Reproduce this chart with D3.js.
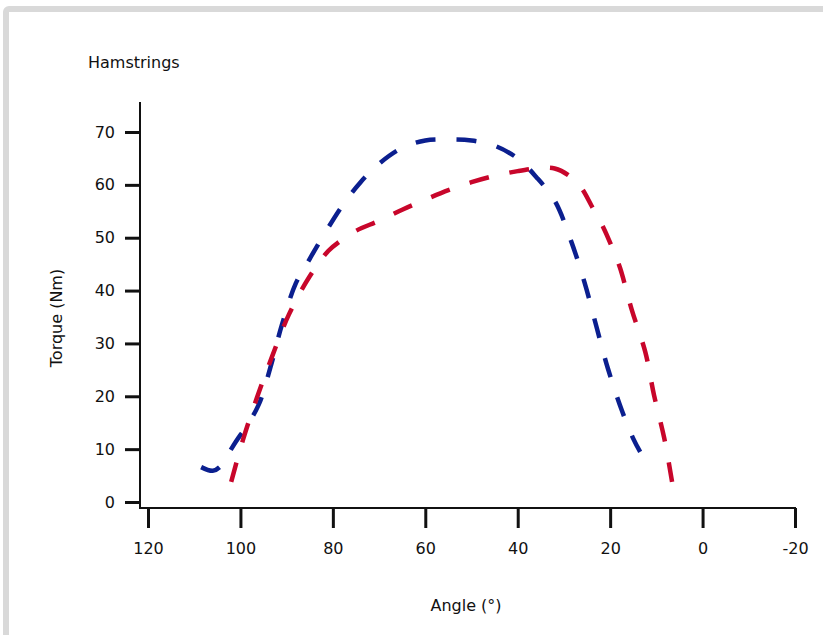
<!DOCTYPE html>
<html>
<head>
<meta charset="utf-8">
<script src="https://cdn.jsdelivr.net/npm/d3@7"></script>
<style>
  body { margin: 0; background: #fff; }
  svg text { font-family: "DejaVu Sans", sans-serif; fill: #111; }
</style>
</head>
<body>
<div id="chart"></div>
<script>
// valores (angulo em graus, torque em Nm)
const anguloAzul = [108.5, 106, 104.5, 103, 101, 98.5, 96, 93.5, 91, 88, 85, 83, 78, 74, 70, 65, 60, 55, 50, 45, 40, 36, 32, 28.5, 25.5, 23, 20.5, 17.5, 15, 13.5];
const torqueAzul = [6.6, 5.9, 6.6, 8.6, 11.4, 14.6, 18.5, 25.5, 33.6, 41.4, 46, 49, 56, 60.5, 64, 67, 68.4, 68.6, 68.4, 67.4, 65, 61.5, 57, 49.5, 41.4, 33.3, 25.3, 17.4, 12, 9.5];

const anguloVermelho = [102, 99.4, 96.4, 93.2, 89.5, 85, 81, 78.5, 75, 70, 65, 60, 55, 50, 45, 40, 35, 32, 29, 26.3, 24, 21.5, 19.5, 17.9, 15.3, 12.4, 10.5, 8.3, 6.6];
const torqueVermelho = [3.8, 11.9, 19.8, 27.4, 35.5, 42.7, 47.5, 49.3, 51.3, 53.2, 55.3, 57.2, 59, 60.5, 61.7, 62.6, 63.2, 63.1, 61.8, 59.5, 56, 52, 48, 44.4, 36.3, 28.4, 20.2, 12.1, 3.8];

const ticksX = [120, 100, 80, 60, 40, 20, 0, -20];
const ticksY = [0, 10, 20, 30, 40, 50, 60, 70];

const width = 823, height = 635;

const svg = d3.select("#chart")
  .append("svg")
  .attr("width", width)
  .attr("height", height);

// moldura cinza
svg.append("rect")
  .attr("x", 6).attr("y", 9)
  .attr("width", width).attr("height", height)
  .attr("rx", 3)
  .attr("fill", "#fff")
  .attr("stroke", "#d9d9d9")
  .attr("stroke-width", 6);

const x = d3.scaleLinear().domain([120, -20]).range([148, 795]);
const y = d3.scaleLinear().domain([0, 70]).range([502, 132]);

// eixo y
const eixoY = svg.append("g")
  .attr("transform", "translate(140,0)")
  .call(d3.axisLeft(y).tickValues(ticksY).tickSize(15).tickPadding(10).tickFormat(d => String(d)));
eixoY.select(".domain").remove();
eixoY.selectAll("line").attr("stroke", "#111").attr("stroke-width", 3);
eixoY.selectAll("text").attr("font-size", 16).attr("font-family", "DejaVu Sans, sans-serif").attr("fill", "#111");

// eixo x
const eixoX = svg.append("g")
  .attr("transform", "translate(0,508)")
  .call(d3.axisBottom(x).tickValues(ticksX).tickSize(20).tickPadding(15).tickFormat(d => String(d)));
eixoX.select(".domain").remove();
eixoX.selectAll("line").attr("stroke", "#111").attr("stroke-width", 3);
eixoX.selectAll("text").attr("font-size", 16).attr("font-family", "DejaVu Sans, sans-serif").attr("fill", "#111");

svg.append("line")
  .attr("x1", 140).attr("x2", 140)
  .attr("y1", 102).attr("y2", 509)
  .attr("stroke", "#111").attr("stroke-width", 2);

svg.append("line")
  .attr("x1", 139).attr("x2", 796)
  .attr("y1", 508).attr("y2", 508)
  .attr("stroke", "#111").attr("stroke-width", 2);

// curvas
const linha = d3.line()
  .x(d => x(d[0]))
  .y(d => y(d[1]))
  .curve(d3.curveCatmullRom.alpha(0.5));

const dadosAzul = anguloAzul.map((a, i) => [a, torqueAzul[i]]);
const dadosVermelho = anguloVermelho.map((a, i) => [a, torqueVermelho[i]]);

svg.append("path")
  .datum(dadosAzul)
  .attr("d", linha)
  .attr("fill", "none")
  .attr("stroke", "#0b1f8f")
  .attr("stroke-width", 4.5)
  .attr("stroke-dasharray", "20,21");

svg.append("path")
  .datum(dadosVermelho)
  .attr("d", linha)
  .attr("fill", "none")
  .attr("stroke", "#c8062b")
  .attr("stroke-width", 4.5)
  .attr("stroke-dasharray", "20,21");

// textos
svg.append("text")
  .attr("x", 88).attr("y", 68)
  .attr("font-size", 16)
  .text("Hamstrings");

svg.append("text")
  .attr("x", 466).attr("y", 611)
  .attr("text-anchor", "middle")
  .attr("font-size", 16)
  .text("Angle (°)");

svg.append("text")
  .attr("transform", "translate(62,318) rotate(-90)")
  .attr("text-anchor", "middle")
  .attr("font-size", 16)
  .text("Torque (Nm)");
</script>
</body>
</html>
